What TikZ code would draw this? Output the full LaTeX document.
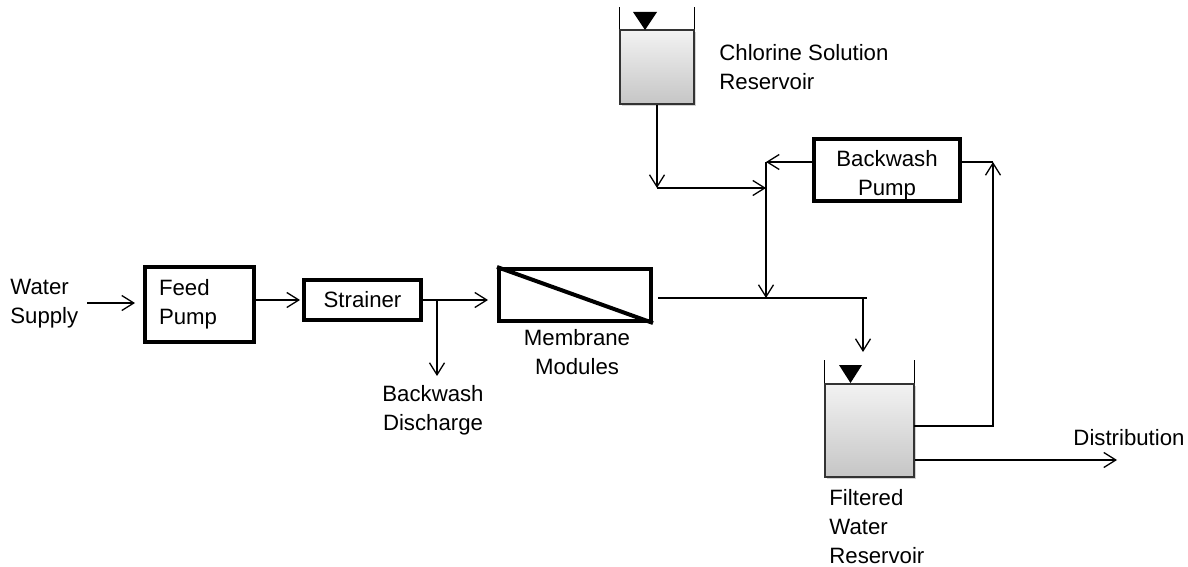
\documentclass[tikz,border=0pt]{standalone}
\usepackage{fontspec}
\setmainfont{Liberation Sans}
\usetikzlibrary{arrows.meta,shadows,calc}
\begin{document}
\begin{tikzpicture}[x=0.5bp,y=-0.5bp,
  font=\fontsize{11.1bp}{14.5bp}\selectfont,
  flow/.style={line width=0.65bp},
  arr/.style={line width=0.65bp,-{Straight Barb[length=6bp,width=7.5bp]}},
  unit/.style={draw,line width=2bp,inner sep=0pt,fill=white},
  tank/.style={draw=black!80,line width=0.7bp,top color=gray!10,bottom color=gray!45,inner sep=0pt,
    drop shadow={shadow xshift=1bp,shadow yshift=-1.2bp,opacity=0.35}},
  lbl/.style={align=left,inner sep=0pt},
  clbl/.style={align=center,inner sep=0pt},
]
\useasboundingbox (0,0) rectangle (1188,567);

% units
\node[unit,minimum width=54.5bp,minimum height=37.5bp,text width=40.5bp,align=left,inner xsep=7bp] (feed) at (199.5,304.5) {Feed\\Pump};
\node[unit,minimum width=58.5bp,minimum height=20bp] (strainer) at (362.5,300) {Strainer};
\node[unit,minimum width=76bp,minimum height=26bp,drop shadow={shadow xshift=1bp,shadow yshift=-1bp,opacity=0.25}] (membrane) at (575,295) {};
\draw[line width=2bp] (membrane.north west) -- (membrane.south east);
\node[unit,minimum width=73bp,minimum height=31bp,label={[clbl,yshift=-2.5bp]center:Backwash\\Pump}] (bwp) at (887,170) {};

% tanks
\node[tank,minimum width=37bp,minimum height=37bp] (clt) at (657,67) {};
\draw[flow] (clt.north west) -- ++(0,-22);
\draw[flow] (clt.north east) -- ++(0,-22);
\fill (633,12) -- (657,12) -- (645,30) -- cycle;

\node[tank,minimum width=44.5bp,minimum height=46.5bp] (fwt) at (869.5,430.5) {};
\draw[flow] (fwt.north west) -- ++(0,-23);
\draw[flow] (fwt.north east) -- ++(0,-23);
\fill (839,365) -- (862,365) -- (850.5,383) -- cycle;

% labels
\node[lbl,anchor=west] (wslbl) at (10,304) {Water\\Supply};
\node[clbl] (bdlbl) at (433,410) {Backwash\\Discharge};
\node[clbl] (memlbl) at (577,352) {Membrane\\Modules};
\node[lbl,anchor=west] (cltlbl) at (719,67) {Chlorine Solution\\Reservoir};
\node[lbl,anchor=west] (fwtlbl) at (829,527) {Filtered\\Water\\Reservoir};
\node[clbl] (distlbl) at (1129,438) {Distribution};

% connectors
\coordinate (ws) at (87,303);
\draw[arr,shorten >=4bp] (ws) -- (ws -| feed.west);
\draw[arr,shorten >=1bp] (feed.east |- strainer.west) -- (strainer.west);
\draw[arr,shorten >=4.5bp] (strainer.east) -- (strainer.east -| membrane.west);
\coordinate (bd) at (437,376);
\draw[arr] (strainer.east -| bd) -- (bd);

\coordinate (m1) at (658,298);
\coordinate (tee) at (867,298);
\coordinate (drop) at (863,298);
\coordinate (fin) at (863,352);
\draw[flow] (m1) -- (tee);
\draw[arr] (drop) -- (fin);

\coordinate (c1) at (657,188);
\coordinate (j2) at (766,188);
\draw[arr] (clt.south) -- (c1);
\draw[arr] (c1) -- (j2);

\coordinate (j1) at (766,162);
\draw[arr] (bwp.west |- j1) -- (j1);
\draw[arr] (j1) -- (j1 |- m1);

\coordinate (r1) at (993,162);
\coordinate (r0) at (914,426);
\draw[flow] (bwp.east |- r1) -- (r1);
\draw[arr] (r0) -| (r1);

\coordinate (dist) at (1117,460);
\draw[arr] (fwt.east |- dist) -- (dist);
\end{tikzpicture}
\end{document}
